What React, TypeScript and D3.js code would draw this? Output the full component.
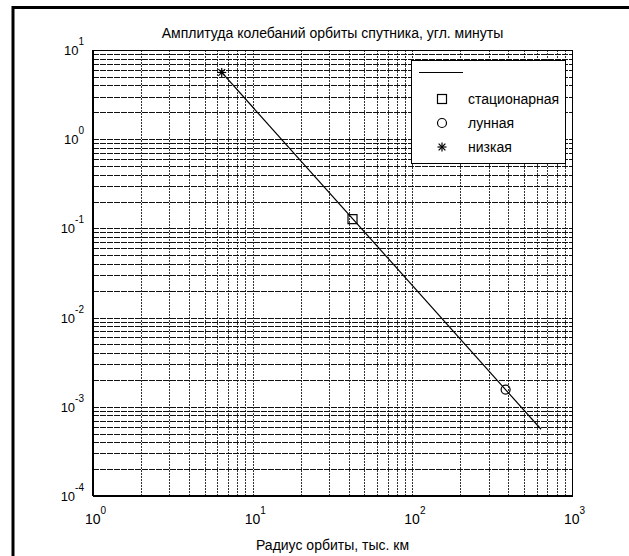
import React from "react";
import * as d3 from "d3";

// orbit radius, thousand km
const lineRadius = [6.4, 640];
const lineAmplitude = [5.6, 5.6e-4];

const markerNames = ["стационарная", "лунная", "низкая"];
const markerShapes = ["square", "circle", "star"];
const markerRadius = [42.2, 384, 6.4];
const markerAmplitude = [0.127, 0.00156, 5.6];

const xTickExp = [0, 1, 2, 3];
const yTickExp = [-4, -3, -2, -1, 0, 1];

const title = "Амплитуда колебаний орбиты спутника, угл. минуты";
const xLabel = "Радиус орбиты, тыс. км";

const W = 629;
const H = 556;
const margin = { left: 93, right: 57, top: 50, bottom: 60 };
const FONT = "'Liberation Sans', Arial, sans-serif";

function Marker({ shape, x, y }: { shape: string; x: number; y: number }) {
  if (shape === "square") {
    return <rect x={x - 4.5} y={y - 4.5} width={9} height={9} fill="none" stroke="#000" strokeWidth={1.2} />;
  }
  if (shape === "circle") {
    return <circle cx={x} cy={y} r={4.5} fill="none" stroke="#000" strokeWidth={1.2} />;
  }
  const s = 4.5;
  return (
    <g stroke="#000" strokeWidth={1.2}>
      <line x1={x - s} y1={y} x2={x + s} y2={y} />
      <line x1={x} y1={y - s} x2={x} y2={y + s} />
      <line x1={x - s * 0.75} y1={y - s * 0.75} x2={x + s * 0.75} y2={y + s * 0.75} />
      <line x1={x - s * 0.75} y1={y + s * 0.75} x2={x + s * 0.75} y2={y - s * 0.75} />
    </g>
  );
}

export default function App() {
  const x = d3.scaleLog().domain([1, 1000]).range([margin.left, W - margin.right]);
  const y = d3.scaleLog().domain([1e-4, 10]).range([H - margin.bottom, margin.top]);
  const [x0, x1] = x.range();
  const [y0, y1] = y.range();

  // grid values: 1..9 × 10^k
  const gridX: number[] = [];
  for (let e = 0; e < 3; e++) for (let m = 1; m <= 9; m++) gridX.push(m * Math.pow(10, e));
  const gridY: number[] = [];
  for (let e = -4; e < 1; e++) for (let m = 1; m <= 9; m++) gridY.push(m * Math.pow(10, e));

  const line = d3
    .line<number>()
    .x((_, i) => x(lineRadius[i]))
    .y((d) => y(d));

  const legend = { x: 411, y: 60, w: 154, h: 103 };
  const px = (v: number) => Math.round(v) + 0.5;

  return (
    <svg width={W} height={H} style={{ position: "absolute", left: 0, top: 0, background: "#fff" }} fontFamily={FONT}>
      <path d={`M13,${H + 10}V7.5H${W + 10}`} fill="none" stroke="#000" strokeWidth={3} />

      <text x={(x0 + x1) / 2} y={38} textAnchor="middle" fontSize={14}>
        {title}
      </text>

      {/* grid */}
      <g>
        {gridX.map((v, i) => (
          <line key={"gx" + i} x1={px(x(v))} x2={px(x(v))} y1={y1} y2={y0} stroke="#333" strokeWidth={1} strokeDasharray="2 1" />
        ))}
        {gridY.map((v, i) => (
          <line key={"gy" + i} x1={x0} x2={x1} y1={px(y(v))} y2={px(y(v))} stroke="#111" strokeWidth={1} strokeDasharray="6 1" />
        ))}
      </g>

      {/* axes box */}
      <rect x={px(x0)} y={px(y1)} width={Math.round(x1 - x0)} height={Math.round(y0 - y1)} fill="none" stroke="#000" strokeWidth={1} />
      <line x1={x0} x2={x1 + 1} y1={y0} y2={y0} stroke="#000" strokeWidth={2} />
      <line x1={x0} x2={x0} y1={y1} y2={y0} stroke="#000" strokeWidth={2} />

      {/* x tick labels */}
      {xTickExp.map((e) => (
        <text key={"xt" + e} x={x(Math.pow(10, e)) - 8} y={y0 + 28} fontSize={14}>
          10
          <tspan dy={-10} fontSize={10}>{e}</tspan>
        </text>
      ))}
      {/* y tick labels */}
      {yTickExp.map((e) => (
        <text key={"yt" + e} x={x0 - 9} y={y(Math.pow(10, e)) + 5} textAnchor="end" fontSize={13}>
          10
          <tspan dy={-10} fontSize={10}>{e}</tspan>
        </text>
      ))}

      <text x={(x0 + x1) / 2} y={550} textAnchor="middle" fontSize={14}>
        {xLabel}
      </text>

      {/* data */}
      <path d={line(lineAmplitude) ?? ""} fill="none" stroke="#000" strokeWidth={1.2} />
      {markerNames.map((n, i) => (
        <Marker key={n} shape={markerShapes[i]} x={x(markerRadius[i])} y={y(markerAmplitude[i])} />
      ))}

      {/* legend */}
      <rect x={legend.x + 0.5} y={legend.y + 0.5} width={legend.w} height={legend.h} fill="#fff" stroke="#000" strokeWidth={1} />
      <line x1={419} x2={463} y1={72.5} y2={72.5} stroke="#000" strokeWidth={1} />
      {markerNames.map((n, i) => (
        <g key={"lg" + n}>
          <Marker shape={markerShapes[i]} x={442} y={99 + i * 24} />
          <text x={468} y={104 + i * 24} fontSize={14}>
            {n}
          </text>
        </g>
      ))}
    </svg>
  );
}
